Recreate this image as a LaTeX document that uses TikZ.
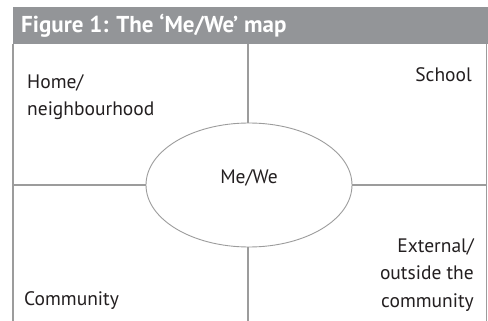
\documentclass[tikz,border=0pt]{standalone}
\usepackage{fontspec}
\setmainfont{PT Sans}
\usetikzlibrary{shapes.geometric}
\definecolor{hdr}{HTML}{939598}
\definecolor{ln}{HTML}{9C9C9C}
\definecolor{txt}{HTML}{231F20}
\tikzset{
  grid/.style={draw=ln,line width=1.6pt},
  lbl/.style={font=\fontsize{19.5}{27.5}\selectfont,text=txt,inner sep=0pt,align=left},
  rlbl/.style={lbl,align=right},
}
\begin{document}
\begin{tikzpicture}[x=1pt,y=-1pt]
\useasboundingbox[fill=white] (0,0) rectangle (488,321);
\fill[hdr] (13,7) rectangle (488,44);
\node[anchor=base west,inner sep=0pt,text=white,font=\fontsize{23}{23}\selectfont\bfseries] (title) at (21,33) {Figure 1: The ‘Me/We’ map};
\coordinate (tl) at (13,44);
\coordinate (bl) at (13,321);
\coordinate (tr) at (486.5,44);
\coordinate (br) at (486.5,321);
\coordinate (ml) at (13,185);
\coordinate (mr) at (486.5,185);
\coordinate (mt) at (248,44);
\coordinate (mb) at (248,321);
\draw[grid] (tl) -- (bl);
\draw[grid] (tr) -- (br);
\draw[grid] (ml) -- (mr);
\draw[grid] (mt) -- (mb);
\node[ellipse,draw=ln,line width=0.9pt,fill=white,minimum width=206,minimum height=124,inner sep=0pt] (me) at (249,185) {};
\node[lbl,anchor=base] (metxt) at (249,183) {Me/We};
\node[lbl,anchor=base west] (home) at (27,116) {Home/\\neighbourhood};
\node[rlbl,anchor=base east] (school) at (472,82) {School};
\node[lbl,anchor=base west] (comm) at (24,305) {Community};
\node[rlbl,anchor=base east] (ext) at (474,307) {External/\\outside the\\community};
\end{tikzpicture}
\end{document}
